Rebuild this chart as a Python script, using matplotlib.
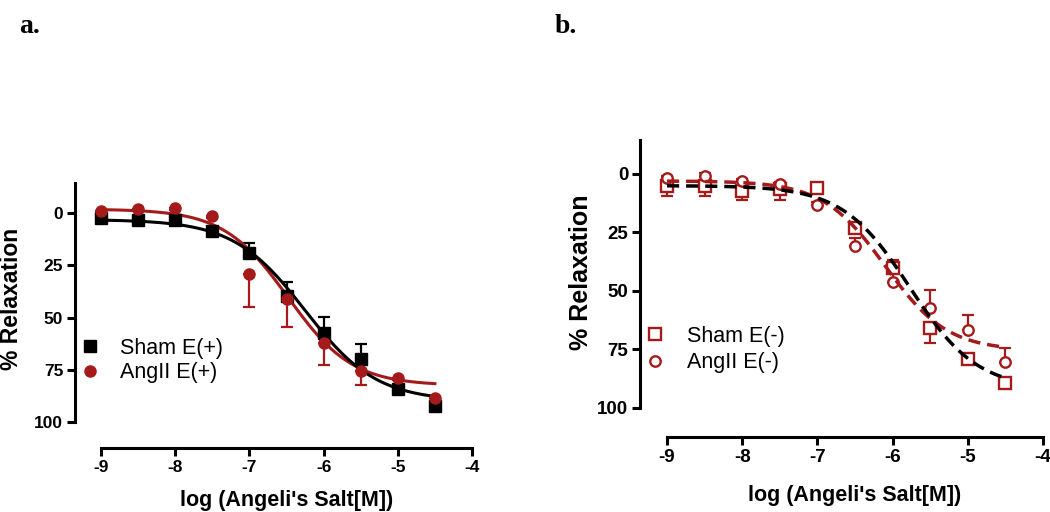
import matplotlib
matplotlib.use("Agg")
import matplotlib.pyplot as plt
import numpy as np

plt.rcParams['font.family'] = ['Liberation Sans', 'DejaVu Sans']
plt.rcParams['axes.unicode_minus'] = False

RED = '#A51A1A'

# log concentration (M)
conc = [-9, -8.5, -8, -7.5, -7, -6.5, -6, -5.5, -5, -4.5]

# panel a, endothelium intact
sham_ep = [2.1, 3.4, 3.2, 8.5, 19.2, 39.4, 57.2, 69.7, 84.1, 92.4]
sham_ep_err = [1.0, 1.0, 1.0, 1.5, 4.8, 6.7, 7.7, 7.2, 1.5, 1.0]
ang_ep = [-1.3, -2.1, -2.4, 1.3, 28.9, 41.0, 62.0, 75.5, 78.8, 88.7]
ang_ep_err = [1.0, 1.0, 1.0, 1.0, 16.1, 13.3, 10.6, 6.7, 1.0, 1.0]

# panel b, endothelium denuded
sham_em = [5.3, 5.3, 7.4, 6.4, 6.0, 23.0, 40.0, 65.8, 79.0, 89.3]
sham_em_err = [4.3, 4.3, 3.6, 4.9, 1.0, 1.5, 2.0, 6.4, 1.0, 1.0]
ang_em = [1.7, 0.7, 3.1, 4.5, 13.2, 31.0, 46.0, 57.3, 66.7, 80.3]
ang_em_err = [1.0, 1.0, 1.0, 1.0, 1.0, 3.5, 9.3, 7.7, 6.4, 6.0]

# sigmoid fit parameters: top, bottom, logEC50, hill slope
fit_sham_ep = (3.0, 90.0, -6.25, 0.9)
fit_ang_ep = (-2.0, 82.5, -6.48, 1.0)
fit_sham_em = (5.0, 92.0, -5.77, 0.97)
fit_ang_em = (3.0, 75.5, -6.1, 1.05)

xticks = [-9, -8, -7, -6, -5, -4]
yticks = [0, 25, 50, 75, 100]


def sigmoid(x, p):
    top, bottom, logec50, hill = p
    return top + (bottom - top) / (1 + 10 ** ((logec50 - x) * hill))


W, H = 1050, 512
fig = plt.figure(figsize=(W / 100, H / 100), dpi=100)


def style_axes(ax, left_out, bottom_out, tick_fs):
    for s in ['top', 'right']:
        ax.spines[s].set_visible(False)
    ax.spines['left'].set_position(('outward', left_out))
    ax.spines['bottom'].set_position(('outward', bottom_out))
    for s in ['left', 'bottom']:
        ax.spines[s].set_linewidth(2.2)
    ax.set_xlim(-9, -4)
    ax.set_ylim(100, -14.5)
    ax.set_xticks(xticks)
    ax.set_yticks(yticks)
    ax.tick_params(width=2.2, length=5.5, labelsize=tick_fs, pad=3)
    for lab in ax.get_xticklabels() + ax.get_yticklabels():
        lab.set_fontweight('bold')
    ax.patch.set_visible(False)


xs = np.linspace(-9, -4.5, 300)
zeros = np.zeros(len(conc))

# ---------- panel a ----------
ax1 = fig.add_axes([101 / W, 90 / H, 371 / W, 239 / H])
style_axes(ax1, 18.7, 18.7, 12.5)

ax1.errorbar(conc, sham_ep, yerr=[sham_ep_err, zeros], fmt='none', ecolor='black',
             elinewidth=1.6, capsize=4, capthick=1.6, clip_on=False, zorder=2)
ax1.errorbar(conc, ang_ep, yerr=[zeros, ang_ep_err], fmt='none', ecolor=RED,
             elinewidth=1.6, capsize=4, capthick=1.6, clip_on=False, zorder=2)
ax1.plot(xs, sigmoid(xs, fit_ang_ep), color=RED, lw=2.2, zorder=3)
ax1.plot(xs, sigmoid(xs, fit_sham_ep), color='black', lw=2.2, zorder=3)
h1, = ax1.plot(conc, sham_ep, 's', color='black', ms=8.5, ls='none', clip_on=False,
               zorder=4, label='Sham E(+)')
h2, = ax1.plot(conc, ang_ep, 'o', color=RED, ms=8, ls='none', clip_on=False,
               zorder=4, label='AngII E(+)')

ax1.set_ylabel('% Relaxation', fontsize=16.5, fontweight='bold')
ax1.yaxis.set_label_coords(23 / W, 1 - 299 / H, transform=fig.transFigure)
ax1.set_xlabel("log (Angeli's Salt[M])", fontsize=15.5, fontweight='bold')
ax1.xaxis.set_label_coords(287 / W, 1 - 490 / H, transform=fig.transFigure)

fig.legend(handles=[h1, h2], loc='upper left', bbox_to_anchor=(79 / W, 1 - 338 / H),
           frameon=False, fontsize=15.5, handlelength=1.0, handletextpad=0.9,
           labelspacing=0.15, borderpad=0, borderaxespad=0)

# ---------- panel b ----------
ax2 = fig.add_axes([667 / W, 104 / H, 376 / W, 268 / H])
style_axes(ax2, 19.4, 20.9, 13.5)

ax2.errorbar(conc, sham_em, yerr=[zeros, sham_em_err], fmt='none', ecolor=RED,
             elinewidth=1.6, capsize=4, capthick=1.6, clip_on=False, zorder=2)
ax2.errorbar(conc, ang_em, yerr=[ang_em_err, zeros], fmt='none', ecolor=RED,
             elinewidth=1.6, capsize=4, capthick=1.6, clip_on=False, zorder=2)
k1, = ax2.plot(conc, sham_em, 's', mfc='white', mec=RED, mew=1.7, ms=8.5, ls='none',
               clip_on=False, zorder=3, label='Sham E(-)')
k2, = ax2.plot(conc, ang_em, 'o', mfc='white', mec=RED, mew=1.7, ms=7.5, ls='none',
               clip_on=False, zorder=3, label='AngII E(-)')
ax2.plot(xs, sigmoid(xs, fit_ang_em), color=RED, lw=2.5, dashes=(3.5, 2), zorder=4)
ax2.plot(xs, sigmoid(xs, fit_sham_em), color='black', lw=2.5, dashes=(3.5, 2), zorder=4)

ax2.set_ylabel('% Relaxation', fontsize=18, fontweight='bold')
ax2.yaxis.set_label_coords(593 / W, 1 - 272 / H, transform=fig.transFigure)
ax2.set_xlabel("log (Angeli's Salt[M])", fontsize=15.5, fontweight='bold')
ax2.xaxis.set_label_coords(855 / W, 1 - 485 / H, transform=fig.transFigure)

fig.legend(handles=[k1, k2], loc='upper left', bbox_to_anchor=(644 / W, 1 - 326 / H),
           frameon=False, fontsize=15.5, handlelength=1.0, handletextpad=1.0,
           labelspacing=0.25, borderpad=0, borderaxespad=0)

fig.text(19 / W, 1 - 33 / H, 'a.', fontsize=20, fontweight='bold',
         family='Liberation Serif', va='baseline')
fig.text(555 / W, 1 - 33 / H, 'b.', fontsize=20, fontweight='bold',
         family='Liberation Serif', va='baseline')

fig.savefig('out.png', dpi=100)
